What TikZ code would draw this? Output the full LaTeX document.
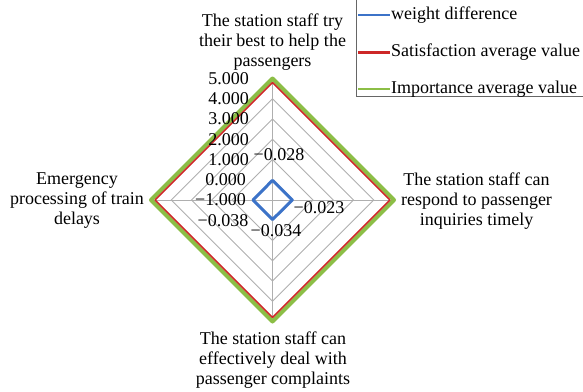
\documentclass[tikz,border=0pt]{standalone}
\usepackage{fontspec}
\setmainfont{Liberation Serif}
\usetikzlibrary{calc}
\definecolor{wblue}{RGB}{60,115,200}
\definecolor{sred}{RGB}{205,40,40}
\definecolor{igreen}{RGB}{140,190,70}
\definecolor{gridgray}{RGB}{175,175,175}
\begin{document}
\begin{tikzpicture}[x=1pt,y=-1pt,
  lbl/.style={font=\fontsize{18}{20}\selectfont, inner sep=0pt, align=center},
  ticklbl/.style={font=\fontsize{18}{20}\selectfont, inner sep=0pt, anchor=east},
  datalbl/.style={font=\fontsize{18}{20}\selectfont, inner sep=0pt},
  leglbl/.style={font=\fontsize{18}{20}\selectfont, inner sep=0pt, anchor=west},
  gridline/.style={draw=gridgray, line width=0.8pt},
  series/.style={line join=round, line cap=round}]
\useasboundingbox (0,0) rectangle (583,391);
\clip (0,0) rectangle (583,391);
\coordinate (c) at (272.5,200);
\def\u{20.25}
% grid rings
\foreach \v in {1,...,6} {
  \draw[gridline] ($(c)+(0,-\v*\u)$) -- ($(c)+(\v*\u,0)$) -- ($(c)+(0,\v*\u)$) -- ($(c)+(-\v*\u,0)$) -- cycle;
}
% axes
\coordinate (atop) at ($(c)+(0,-6*\u)$);
\coordinate (aright) at ($(c)+(6*\u,0)$);
\coordinate (abot) at ($(c)+(0,6*\u)$);
\coordinate (aleft) at ($(c)+(-6*\u,0)$);
\draw[gridline] (c) -- (atop);
\draw[gridline] (c) -- (aright);
\draw[gridline] (c) -- (abot);
\draw[gridline] (c) -- (aleft);
% series: importance
\draw[series, igreen, line width=4pt] ($(c)+(0,-6*\u)$) -- ($(c)+(6*\u,0)$) -- ($(c)+(0,6*\u)$) -- ($(c)+(-6*\u,0)$) -- cycle;
% satisfaction
\draw[series, sred, line width=1.5pt] ($(c)+(0,-5.8*\u)$) -- ($(c)+(5.8*\u,0)$) -- ($(c)+(0,5.8*\u)$) -- ($(c)+(-5.8*\u,0)$) -- cycle;
% weight difference
\draw[series, wblue, line width=3pt] ($(c)+(0,-0.972*\u)$) -- ($(c)+(0.977*\u,0)$) -- ($(c)+(0,0.966*\u)$) -- ($(c)+(-0.962*\u,0)$) -- cycle;
% tick labels
\node[ticklbl] (t5) at (249,78.5) {5.000};
\node[ticklbl] (t4) at (249,98.75) {4.000};
\node[ticklbl] (t3) at (249,119) {3.000};
\node[ticklbl] (t2) at (249,139.25) {2.000};
\node[ticklbl] (t1) at (249,159.5) {1.000};
\node[ticklbl] (t0) at (246,179.75) {0.000};
\node[ticklbl] (tm1) at (246,200) {−1.000};
% data labels
\node[datalbl] (d1) at (279,155) {−0.028};
\node[datalbl] (d2) at (319,208) {−0.023};
\node[datalbl] (d3) at (276,231) {−0.034};
\node[datalbl] (d4) at (223,221) {−0.038};
% category labels
\node[lbl] (ctop) at (272.5,42) {The station staff try\\their best to help the\\passengers};
\node[lbl] (cright) at (476.5,201) {The station staff can\\respond to passenger\\inquiries timely};
\node[lbl] (cbot) at (273,360.5) {The station staff can\\effectively deal with\\passenger complaints};
\node[lbl] (cleft) at (77,201) {Emergency\\processing of train\\delays};
% legend
\draw[draw=gray!80!black, line width=0.8pt] (356,-1) -- (356,96.5) -- (590,96.5);
\coordinate (l1a) at (358,15); \coordinate (l1b) at (390,15);
\coordinate (l2a) at (358,52.5); \coordinate (l2b) at (390,52.5);
\coordinate (l3a) at (358,89); \coordinate (l3b) at (390,89);
\draw[wblue, line width=2.2pt] (l1a) -- (l1b);
\draw[sred, line width=2.2pt] (l2a) -- (l2b);
\draw[igreen, line width=2.2pt] (l3a) -- (l3b);
\node[leglbl] (g1) at (391,15) {weight difference};
\node[leglbl] (g2) at (391,52.5) {Satisfaction average value};
\node[leglbl] (g3) at (391,89) {Importance average value};
\end{tikzpicture}
\end{document}
